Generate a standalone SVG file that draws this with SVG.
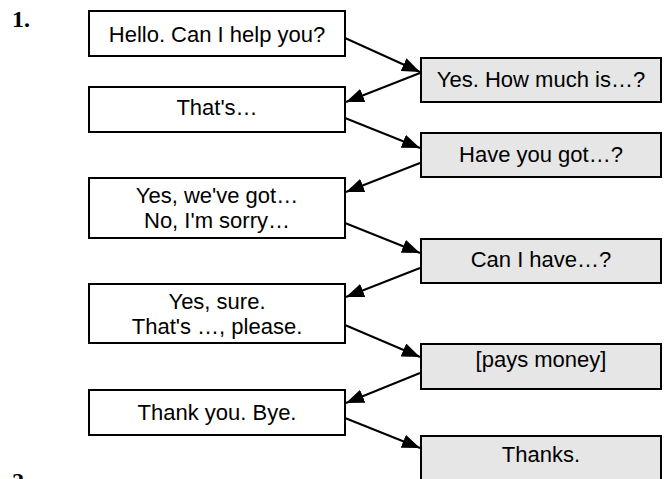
<svg xmlns="http://www.w3.org/2000/svg" width="671" height="479" viewBox="0 0 671 479">
<style>
.l rect{fill:#fff;stroke:#000;stroke-width:2}
.r rect{fill:#e6e6e6;stroke:#000;stroke-width:2}
text{font-family:"Liberation Sans",Arial,sans-serif;font-size:22px;fill:#000;text-anchor:middle}
.num{font-family:"Liberation Serif","Times New Roman",serif;font-weight:bold;font-size:24px;text-anchor:start}
#connectors line{stroke:#000;stroke-width:2;marker-end:url(#ah)}
</style>
<defs>
<marker id="ah" viewBox="0 0 18 14" refX="18" refY="7" markerWidth="18" markerHeight="14" markerUnits="userSpaceOnUse" orient="auto">
<path d="M0,0 L18,7 L0,14 z" fill="#000"/>
</marker>
</defs>
<rect width="671" height="479" fill="#fff"/>
<text class="num" x="12" y="27">1.</text>
<text class="num" x="12" y="489">2.</text>
<g id="connectors">
<line x1="345" y1="38" x2="420" y2="72"/>
<line x1="420" y1="73" x2="346" y2="102"/>
<line x1="345" y1="118" x2="420" y2="148"/>
<line x1="420" y1="163" x2="346" y2="192"/>
<line x1="345" y1="223" x2="420" y2="253"/>
<line x1="420" y1="268" x2="346" y2="297"/>
<line x1="345" y1="325" x2="420" y2="357"/>
<line x1="420" y1="373" x2="346" y2="403"/>
<line x1="345" y1="418" x2="420" y2="448"/>
</g>
<g id="n1" class="l"><rect x="89" y="11" width="256" height="45"/><text x="217" y="42">Hello. Can I help you?</text></g>
<g id="n2" class="r"><rect x="421" y="58" width="240" height="44"/><text x="541" y="87">Yes. How much is…?</text></g>
<g id="n3" class="l"><rect x="89" y="87" width="256" height="45"/><text x="217" y="115">That's…</text></g>
<g id="n4" class="r"><rect x="421" y="133" width="240" height="44"/><text x="541" y="162">Have you got…?</text></g>
<g id="n5" class="l"><rect x="89" y="178" width="256" height="60"/><text x="217" y="203">Yes, we've got…</text><text x="217" y="228">No, I'm sorry…</text></g>
<g id="n6" class="r"><rect x="421" y="239" width="240" height="44"/><text x="541" y="267">Can I have…?</text></g>
<g id="n7" class="l"><rect x="89" y="284" width="256" height="59"/><text x="217" y="309">Yes, sure.</text><text x="217" y="334">That's …, please.</text></g>
<g id="n8" class="r"><rect x="421" y="344" width="240" height="45"/><text x="541" y="367">[pays money]</text></g>
<g id="n9" class="l"><rect x="89" y="390" width="256" height="45"/><text x="217" y="420">Thank you. Bye.</text></g>
<g id="n10" class="r"><rect x="421" y="436" width="240" height="60"/><text x="541" y="462">Thanks.</text></g>
</svg>
